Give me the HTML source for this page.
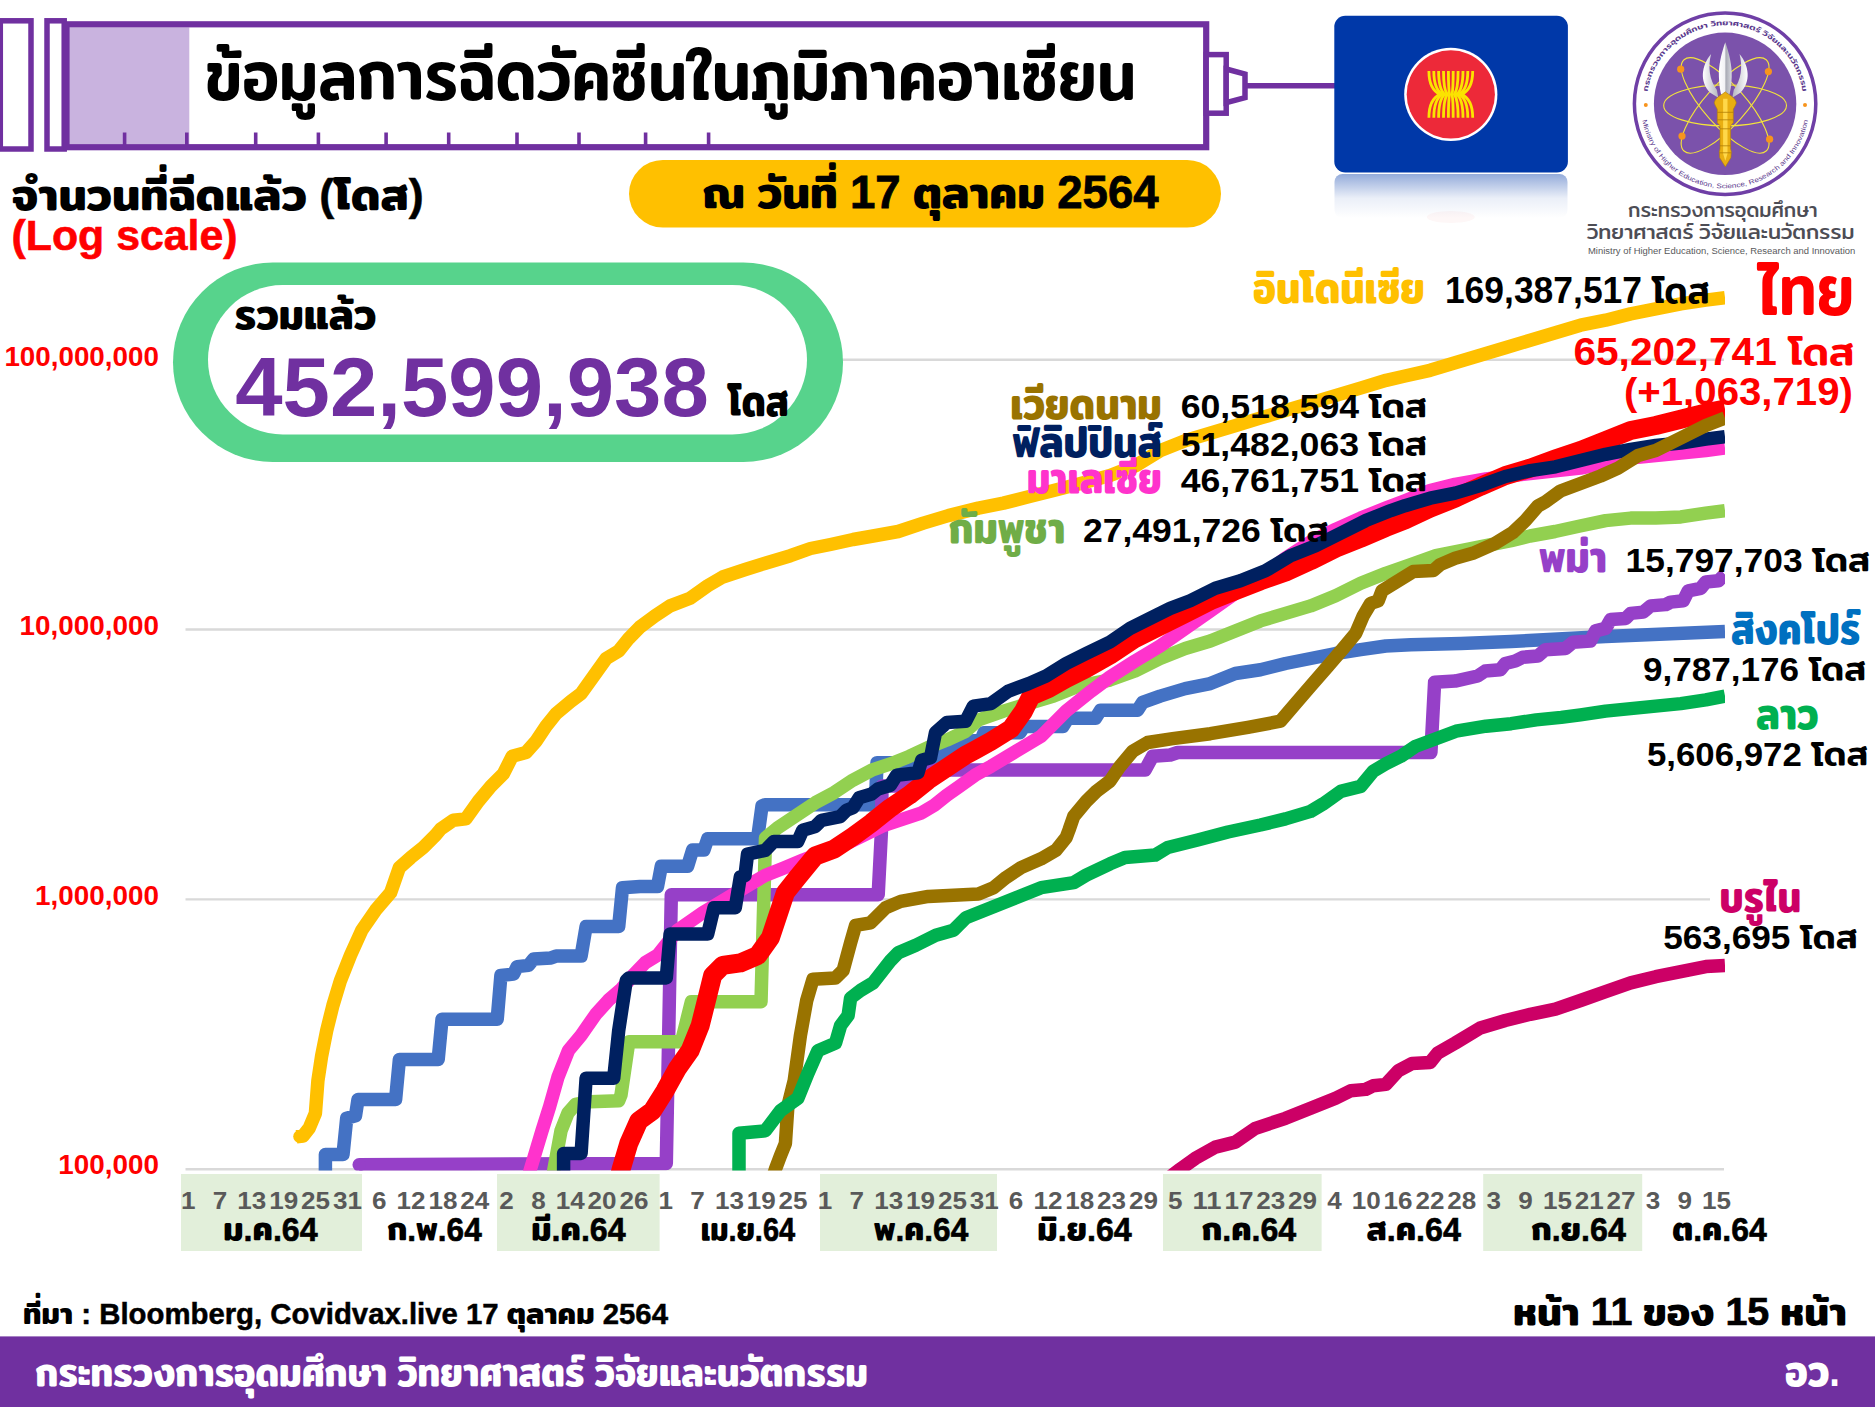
<!DOCTYPE html>
<html lang="th"><head><meta charset="utf-8"><title>ข้อมูลการฉีดวัคซีนในภูมิภาคอาเซียน</title>
<style>html,body{margin:0;padding:0;background:#fff}body{width:1875px;height:1407px;overflow:hidden}svg{display:block}text{font-family:"Liberation Sans","Mitr","Kanit","Prompt","Noto Sans Thai","Loma",sans-serif}</style></head><body>
<svg width="1875" height="1407" viewBox="0 0 1875 1407">
<defs><clipPath id="plot"><rect x="180" y="270" width="1545" height="900.5"/></clipPath>
<linearGradient id="refl" x1="0" y1="0" x2="0" y2="1"><stop offset="0" stop-color="#0038A8" stop-opacity=".42"/><stop offset=".55" stop-color="#0038A8" stop-opacity=".08"/><stop offset="1" stop-color="#0038A8" stop-opacity="0"/></linearGradient>
<linearGradient id="bladeM" x1="0" y1="0" x2="1" y2="0"><stop offset="0" stop-color="#fff"/><stop offset=".45" stop-color="#F2F2F5"/><stop offset=".55" stop-color="#A9ABB5"/><stop offset="1" stop-color="#D9DAE0"/></linearGradient>
<linearGradient id="bladeL" x1="0" y1="0" x2="1" y2="0"><stop offset="0" stop-color="#fff"/><stop offset="1" stop-color="#B4B6C0"/></linearGradient>
<linearGradient id="bladeR" x1="0" y1="0" x2="1" y2="0"><stop offset="0" stop-color="#B4B6C0"/><stop offset="1" stop-color="#fff"/></linearGradient>
</defs>
<rect width="1875" height="1407" fill="#fff"/>
<g fill="none" stroke="#7030A0" stroke-width="5.5">
<rect x="0.3" y="20.8" width="30.7" height="128.2" fill="#fff"/>
<rect x="47" y="20.8" width="17.2" height="128.2" fill="#fff"/>
<rect x="68.6" y="27.4" width="120.7" height="116.8" fill="#C9B3DF" stroke="none"/>
<rect x="66.5" y="24.3" width="1139.7" height="122.9" stroke-width="6.2"/>
<rect x="1206.2" y="54.6" width="20" height="58.6" fill="#fff"/>
<path d="M1226.2 69 L1245 74 L1245 97.6 L1226.2 102.6 Z" fill="#fff"/>
<path d="M1245 85.7 H1335"/>
</g>
<g stroke="#7030A0" stroke-width="3.6">
<path d="M124.6 132.5 V146"/>
<path d="M186.8 132.5 V146"/>
<path d="M255.7 132.5 V146"/>
<path d="M318.4 132.5 V146"/>
<path d="M386.1 132.5 V146"/>
<path d="M448.7 132.5 V146"/>
<path d="M517.0 132.5 V146"/>
<path d="M579.0 132.5 V146"/>
<path d="M645.6 132.5 V146"/>
<path d="M708.6 132.5 V146"/>
</g>
<rect x="1334.5" y="174" width="233" height="44" rx="8" fill="url(#refl)"/>
<ellipse cx="1450.8" cy="217" rx="24" ry="6" fill="#ED2939" opacity=".04"/>
<rect x="1334.3" y="15.8" width="233.6" height="156.7" rx="11" fill="#0038A8"/>
<circle cx="1450.8" cy="94.4" r="46.6" fill="#fff"/><circle cx="1450.8" cy="94.4" r="44.1" fill="#ED2939"/>
<g fill="none" stroke="#FBE400" stroke-width="2.8"><path d="M1428.9 71 Q1428.9 89.5 1440.2 94.4 Q1428.9 99.3 1428.9 117.8"/><path d="M1433.8 71 Q1433.8 89.5 1442.6 94.4 Q1433.8 99.3 1433.8 117.8"/><path d="M1438.6 71 Q1438.6 89.5 1444.9 94.4 Q1438.6 99.3 1438.6 117.8"/><path d="M1443.5 71 Q1443.5 89.5 1447.3 94.4 Q1443.5 99.3 1443.5 117.8"/><path d="M1448.4 71 Q1448.4 89.5 1449.6 94.4 Q1448.4 99.3 1448.4 117.8"/><path d="M1453.2 71 Q1453.2 89.5 1452.0 94.4 Q1453.2 99.3 1453.2 117.8"/><path d="M1458.1 71 Q1458.1 89.5 1454.3 94.4 Q1458.1 99.3 1458.1 117.8"/><path d="M1463.0 71 Q1463.0 89.5 1456.7 94.4 Q1463.0 99.3 1463.0 117.8"/><path d="M1467.8 71 Q1467.8 89.5 1459.0 94.4 Q1467.8 99.3 1467.8 117.8"/><path d="M1472.7 71 Q1472.7 89.5 1461.4 94.4 Q1472.7 99.3 1472.7 117.8"/></g>
<circle cx="1725.1" cy="103.8" r="90.7" fill="#fff" stroke="#6F3FA6" stroke-width="3.5"/>
<circle cx="1725.1" cy="103.8" r="71.2" fill="#7B52AB"/>
<g fill="none" stroke="#F3E43A" stroke-width="1.1">
<ellipse cx="1725.1" cy="105.4" rx="61.4" ry="20.5" transform="rotate(0 1725.1 105.4)"/>
<ellipse cx="1725.1" cy="105.4" rx="61.4" ry="20.5" transform="rotate(48 1725.1 105.4)"/>
<ellipse cx="1725.1" cy="105.4" rx="61.4" ry="20.5" transform="rotate(-48 1725.1 105.4)"/>
</g>
<g fill="#F7941D">
<circle cx="1680.7" cy="69.2" r="3.6"/>
<circle cx="1768.4" cy="71.6" r="3.6"/>
<circle cx="1682.0" cy="136.1" r="3.6"/>
<circle cx="1769.6" cy="139.2" r="3.6"/>
<circle cx="1645.8" cy="105.1" r="2.0"/>
<circle cx="1805.0" cy="105.1" r="2.0"/>
</g>
<g transform="translate(1725.3 103.8)">
<path d="M-14.2 -49.8 C-24 -38 -26 -22 -15 -11 L-7 -6 L-8.5 -14 C-16 -24 -17.5 -37 -14.2 -49.8Z" fill="url(#bladeL)"/>
<path d="M14.2 -49.8 C24 -38 26 -22 15 -11 L7 -6 L8.5 -14 C16 -24 17.5 -37 14.2 -49.8Z" fill="url(#bladeR)"/>
<path d="M0 -61.5 C-4 -50 -6.8 -38 -6.4 -27 C-6.2 -19 -5 -12 -3.5 -7 L3.5 -7 C5 -12 6.2 -19 6.4 -27 C6.8 -38 4 -50 0 -61.5Z" fill="url(#bladeM)"/>
<path d="M0 -12 C-3 -9 -10 -7 -11 -1 C-10 3 -8 4.5 -8 6 L-8 19 L-5.3 22 L-5.3 45 L-6 48 L-5.6 54 L0 63 L5.6 54 L6 48 L5.3 45 L5.3 22 L8 19 L8 6 C8 4.5 10 3 11 -1 C10 -7 3 -9 0 -12Z" fill="#E9AE12" stroke="#B07D08" stroke-width=".6"/>
<path d="M-2.2 -5 L2.2 -5 L2.2 50 L0 57 L-2.2 50Z" fill="#FFD84A"/>
<path d="M-8 8.5 H8 M-8 16 H8 M-5.3 25 H5.3 M-5.3 42 H5.3 M-6 49 H6" stroke="#B07D08" stroke-width=".8" fill="none"/>
</g>
<path id="arcTop" d="M1646.6 103.8 A78.5 78.5 0 0 1 1803.6 103.8" fill="none"/>
<path id="arcBot" d="M1640.6 103.8 A84.5 84.5 0 0 0 1809.6 103.8" fill="none"/>
<text font-size="7.2" fill="#5B3A8E" font-weight="500"><textPath href="#arcTop" startOffset="50%" text-anchor="middle" textLength="222" lengthAdjust="spacingAndGlyphs">กระทรวงการอุดมศึกษา วิทยาศาสตร์ วิจัยและนวัตกรรม</textPath></text>
<text font-size="6.6" fill="#5B3A8E"><textPath href="#arcBot" startOffset="50%" text-anchor="middle" textLength="232" lengthAdjust="spacingAndGlyphs">Ministry of Higher Education, Science, Research and Innovation</textPath></text>
<text x="1628.0" y="217.0" font-size="19.8" fill="#4D4D55" font-weight="400" textLength="189.6" lengthAdjust="spacingAndGlyphs">กระทรวงการอุดมศึกษา</text>
<text x="1587.0" y="239.3" font-size="20.6" fill="#4D4D55" font-weight="400" textLength="267.5" lengthAdjust="spacingAndGlyphs">วิทยาศาสตร์ วิจัยและนวัตกรรม</text>
<text x="1588.0" y="254.0" font-size="9.2" fill="#58595B" font-weight="400" textLength="267.3" lengthAdjust="spacingAndGlyphs">Ministry of Higher Education, Science, Research and Innovation</text>
<text x="205.6" y="100.0" font-size="71" fill="#000" font-weight="500" textLength="930.5" lengthAdjust="spacingAndGlyphs">ข้อมูลการฉีดวัคซีนในภูมิภาคอาเซียน</text>
<text x="11.5" y="209.6" font-size="44" fill="#000" font-weight="600" textLength="412.2" lengthAdjust="spacingAndGlyphs">จำนวนที่ฉีดแล้ว <tspan font-weight="700" stroke="#000" stroke-width="0.5">(</tspan>โดส<tspan font-weight="700" stroke="#000" stroke-width="0.5">)</tspan></text>
<text x="11.5" y="249.6" font-size="42" fill="#FF0000" font-weight="700" textLength="226.1" lengthAdjust="spacingAndGlyphs" stroke="#FF0000" stroke-width=".6">(Log scale)</text>
<rect x="629" y="160" width="592" height="67.5" rx="33.75" fill="#FFC000"/>
<text x="702.6" y="207.6" font-size="44" fill="#000" font-weight="600" textLength="456.0" lengthAdjust="spacingAndGlyphs">ณ วันที่ <tspan font-weight="700" font-size="45.4" stroke="#000" stroke-width="0.8">17</tspan> ตุลาคม <tspan font-weight="700" font-size="45.4" stroke="#000" stroke-width="0.8">2564</tspan></text>
<g stroke="#D9D9D9" stroke-width="2.4">
<path d="M185.5 359.8 H1724"/>
<path d="M185.5 629.5 H1724"/>
<path d="M185.5 899.4 H1710"/>
<path d="M185.5 1169.2 H1724"/>
</g>
<rect x="181.0" y="1174" width="181.0" height="77" fill="#E2EFDA"/>
<rect x="497.0" y="1174" width="162.6" height="77" fill="#E2EFDA"/>
<rect x="820.0" y="1174" width="177.0" height="77" fill="#E2EFDA"/>
<rect x="1163.0" y="1174" width="158.6" height="77" fill="#E2EFDA"/>
<rect x="1483.2" y="1174" width="159.0" height="77" fill="#E2EFDA"/>
<g clip-path="url(#plot)" fill="none" stroke-linejoin="round" stroke-linecap="butt">
<path d="M296.5 1136.8 L303.0 1136.0 L309.1 1128.3 L315.4 1113.3 L317.9 1080.7 L321.7 1055.6 L326.7 1030.5 L332.9 1005.5 L340.5 980.4 L350.5 955.3 L361.8 930.3 L375.6 910.2 L390.6 892.7 L399.4 867.6 L410.7 857.6 L423.2 847.5 L435.7 835.0 L440.7 829.0 L453.3 820.2 L465.8 818.9 L478.3 801.4 L490.9 786.3 L503.4 773.8 L512.2 756.3 L526.0 752.5 L536.0 741.2 L546.0 726.2 L556.1 713.6 L571.1 701.1 L581.1 693.6 L593.7 676.0 L606.2 658.5 L618.7 651.0 L628.8 638.4 L640.0 627.0 L655.0 615.9 L670.1 605.9 L690.1 598.3 L707.7 585.8 L722.7 577.0 L745.3 569.5 L765.3 563.2 L790.4 555.7 L810.5 548.5 L830.5 544.5 L853.1 539.5 L873.1 536.0 L898.2 531.5 L923.3 523.1 L948.3 515.6 L978.4 508.1 L1003.5 503.1 L1028.6 496.8 L1053.6 490.5 L1078.7 484.0 L1110.0 475.5 L1135.6 465.6 L1160.6 450.5 L1185.7 440.5 L1210.8 433.0 L1235.8 425.5 L1260.9 417.9 L1286.0 410.4 L1311.0 402.9 L1336.1 395.4 L1361.2 387.9 L1386.2 380.3 L1405.0 376.0 L1430.1 370.3 L1455.1 362.8 L1480.2 355.3 L1505.3 347.7 L1530.3 340.2 L1555.4 332.7 L1580.5 325.2 L1605.6 320.2 L1630.6 313.9 L1655.7 308.9 L1680.8 303.9 L1705.8 300.1 L1725.0 297.6" stroke="#FFC000" stroke-width="13.5"/>
<path d="M325.4 1175.0 L325.4 1154.6 L343.0 1154.6 L346.7 1118.3 L355.5 1115.8 L358.0 1099.5 L395.6 1099.5 L399.4 1059.4 L438.2 1059.4 L442.0 1019.3 L497.2 1019.3 L500.9 975.4 L513.5 974.1 L517.2 966.6 L528.5 965.4 L533.5 959.1 L551.0 957.9 L556.0 956.1 L581.1 956.1 L586.1 926.5 L618.7 926.5 L622.5 887.7 L640.0 886.4 L657.5 886.4 L661.3 866.3 L687.6 866.3 L692.6 850.0 L703.9 850.0 L707.7 838.8 L757.5 838.8 L762.0 806.0 L765.0 804.7 L875.4 804.7 L877.0 762.7 L936.0 762.7 L945.0 752.0 L958.0 742.0 L981.0 740.3 L984.0 732.7 L1020.0 732.7 L1024.0 726.5 L1062.9 726.5 L1068.0 718.3 L1095.5 718.3 L1100.5 710.2 L1137.6 710.2 L1142.6 702.4 L1160.1 696.1 L1185.2 688.6 L1210.3 683.6 L1235.3 673.5 L1260.4 669.8 L1285.5 663.5 L1310.6 658.5 L1335.6 653.5 L1360.7 649.7 L1385.8 646.0 L1410.8 644.7 L1461.0 643.5 L1511.1 641.5 L1605.6 636.5 L1725.0 631.5" stroke="#4472C4" stroke-width="13.5"/>
<path d="M359.2 1164.7 L666.3 1163.4 L671.3 894.7 L878.2 894.7 L881.5 830.0 L882.0 786.0 L922.0 786.0 L926.0 770.0 L1145.1 770.0 L1152.6 756.3 L1170.2 755.0 L1177.7 752.5 L1430.9 752.5 L1434.6 682.3 L1455.1 681.1 L1477.7 676.0 L1485.2 671.0 L1500.3 669.8 L1505.3 663.5 L1515.3 661.0 L1522.8 657.2 L1537.9 656.0 L1545.4 649.7 L1565.4 648.5 L1573.0 642.2 L1590.5 641.0 L1595.5 630.9 L1605.6 628.4 L1610.6 619.6 L1625.6 618.4 L1630.6 613.4 L1643.2 612.1 L1650.7 605.9 L1665.7 604.6 L1670.7 602.1 L1683.3 600.8 L1688.3 590.8 L1700.8 588.3 L1705.8 582.0 L1718.4 580.8 L1725.0 574.5" stroke="#9640C8" stroke-width="13.5"/>
<path d="M553.0 1176.0 L554.0 1169.0 L561.0 1130.8 L568.0 1113.0 L575.5 1104.5 L590.0 1101.7 L618.7 1100.7 L621.0 1095.0 L628.8 1041.8 L681.4 1041.8 L691.4 1001.7 L761.0 1001.7 L764.5 875.5 L765.5 838.0 L777.6 827.8 L796.4 815.3 L815.2 802.8 L834.0 792.7 L852.8 780.2 L871.6 770.2 L890.4 763.9 L909.2 756.4 L928.0 747.6 L946.8 740.1 L965.6 731.3 L978.4 720.0 L1003.5 711.1 L1028.6 703.6 L1053.6 696.1 L1078.7 686.1 L1110.0 680.0 L1135.1 671.0 L1160.1 658.5 L1185.2 648.5 L1210.3 641.0 L1235.3 630.9 L1260.4 620.9 L1285.5 613.4 L1310.6 605.9 L1335.6 595.8 L1360.7 583.3 L1385.8 573.3 L1410.8 564.5 L1435.9 555.7 L1461.0 550.7 L1486.0 545.7 L1511.1 540.7 L1530.0 536.0 L1555.0 531.5 L1580.0 526.0 L1605.6 520.6 L1630.6 518.1 L1655.7 518.1 L1680.8 516.9 L1705.8 513.1 L1725.0 510.6" stroke="#92D050" stroke-width="13.5"/>
<path d="M528.5 1176.0 L530.5 1169.0 L542.0 1130.8 L549.5 1107.0 L558.0 1077.0 L568.5 1050.5 L581.0 1035.5 L596.0 1014.0 L608.5 1000.2 L621.0 989.5 L633.0 975.5 L645.3 962.6 L657.9 955.0 L677.6 930.3 L702.7 912.7 L727.7 897.7 L752.8 882.6 L765.0 875.5 L783.9 867.9 L803.0 860.0 L850.0 842.0 L884.1 825.3 L902.9 819.1 L921.7 812.8 L934.3 805.3 L946.8 795.2 L959.3 786.5 L975.0 775.2 L991.0 766.3 L1016.0 751.3 L1041.1 736.2 L1066.2 711.1 L1091.2 691.1 L1110.0 677.0 L1135.1 661.0 L1160.1 646.0 L1185.2 628.4 L1210.3 610.9 L1235.3 593.3 L1260.4 577.0 L1285.5 558.2 L1310.6 541.9 L1335.6 529.4 L1360.7 518.1 L1385.8 508.1 L1405.0 500.7 L1430.1 490.6 L1455.1 484.4 L1486.0 479.0 L1530.0 473.5 L1580.5 468.1 L1605.6 463.1 L1630.6 458.0 L1655.7 455.5 L1680.8 453.0 L1705.8 450.5 L1725.0 448.0" stroke="#FF33CC" stroke-width="13.5"/>
<path d="M619.0 1178.0 L621.2 1169.0 L628.8 1143.4 L638.8 1120.8 L652.5 1110.8 L665.1 1090.7 L677.6 1068.2 L690.1 1050.6 L700.2 1025.5 L707.7 995.5 L712.7 975.4 L722.7 965.4 L740.3 962.9 L757.8 955.4 L770.4 937.8 L777.9 915.2 L785.4 892.7 L797.9 877.0 L815.2 856.0 L834.0 849.1 L852.8 836.6 L871.6 822.8 L890.4 807.8 L909.2 795.2 L928.0 780.2 L946.8 767.7 L965.6 755.1 L975.0 750.1 L991.0 741.2 L1011.0 728.7 L1023.6 711.1 L1031.1 696.1 L1048.6 688.6 L1066.2 678.6 L1086.2 668.5 L1110.0 655.0 L1135.1 638.4 L1160.1 625.9 L1185.2 613.4 L1210.3 600.8 L1235.3 590.8 L1260.4 580.8 L1285.5 572.0 L1310.6 560.7 L1335.6 548.2 L1360.7 538.2 L1385.8 527.5 L1405.0 520.0 L1430.1 508.2 L1455.1 498.2 L1480.2 486.5 L1505.3 475.6 L1530.3 468.1 L1555.4 459.0 L1580.5 450.5 L1605.6 440.5 L1630.6 430.5 L1655.7 425.5 L1680.8 419.2 L1705.8 412.9 L1725.0 409.0" stroke="#FF0000" stroke-width="19"/>
<path d="M563.6 1176.0 L563.6 1153.4 L581.1 1153.4 L586.1 1078.2 L613.7 1078.2 L618.7 1030.5 L626.3 980.4 L628.8 977.9 L666.3 977.9 L670.1 934.0 L707.7 934.0 L714.0 907.7 L735.3 907.7 L740.3 877.0 L745.0 875.5 L747.5 854.2 L765.1 850.4 L773.8 841.6 L797.7 841.6 L802.7 830.3 L815.2 826.6 L821.5 820.3 L840.3 816.6 L846.5 810.3 L852.8 807.8 L859.1 797.8 L871.6 794.0 L877.9 789.0 L890.4 785.2 L896.7 775.2 L918.0 772.7 L921.7 760.2 L930.5 757.7 L935.5 732.6 L946.8 722.6 L965.6 721.3 L973.4 706.1 L991.0 703.6 L1008.5 691.1 L1028.6 683.6 L1046.1 676.0 L1066.2 663.5 L1086.2 653.5 L1110.0 642.0 L1130.1 628.4 L1150.1 618.4 L1170.2 608.4 L1190.2 600.8 L1215.3 588.3 L1240.4 580.8 L1265.4 570.8 L1290.5 555.7 L1315.6 545.7 L1340.6 533.2 L1365.7 520.6 L1390.8 510.6 L1405.0 505.7 L1430.1 498.2 L1455.1 493.1 L1480.2 485.6 L1505.3 476.5 L1530.3 470.6 L1555.4 466.8 L1580.5 460.5 L1605.6 454.3 L1630.6 449.3 L1655.7 445.5 L1680.8 443.0 L1705.8 439.2 L1725.0 436.7" stroke="#002060" stroke-width="13.5"/>
<path d="M773.0 1177.0 L775.4 1169.2 L780.4 1155.9 L785.4 1143.4 L787.9 1105.8 L794.2 1080.7 L800.4 1035.6 L806.7 1000.5 L813.0 979.2 L835.5 977.9 L843.1 970.4 L850.6 942.8 L855.6 925.3 L870.6 922.8 L885.7 907.7 L900.7 901.4 L928.3 896.4 L978.4 893.9 L993.5 887.7 L1006.0 877.6 L1021.0 867.6 L1041.1 858.8 L1056.1 850.1 L1066.2 837.5 L1069.0 830.0 L1073.7 816.4 L1086.2 801.4 L1096.3 791.4 L1110.0 781.0 L1120.0 766.3 L1132.6 751.3 L1147.6 742.5 L1172.7 738.7 L1210.3 733.7 L1247.9 727.4 L1280.5 721.2 L1295.5 703.6 L1310.6 686.1 L1328.1 666.0 L1343.1 648.5 L1355.7 633.4 L1363.2 615.9 L1370.7 603.3 L1378.2 600.8 L1382.0 590.8 L1398.3 580.8 L1413.3 571.5 L1433.4 570.5 L1440.1 564.6 L1455.1 558.3 L1472.7 553.3 L1495.3 543.3 L1512.8 532.5 L1525.3 520.7 L1537.9 506.0 L1545.4 501.9 L1560.4 491.0 L1580.5 483.5 L1600.5 476.0 L1618.1 468.1 L1638.1 455.5 L1655.7 450.5 L1680.8 438.0 L1705.8 425.5 L1725.0 418.0" stroke="#997300" stroke-width="13.5"/>
<path d="M739.0 1177.0 L739.0 1133.3 L765.3 1130.8 L780.4 1110.8 L797.9 1098.2 L808.0 1073.2 L818.0 1050.6 L835.5 1043.1 L840.6 1025.5 L848.1 1015.5 L850.6 998.0 L860.6 990.4 L873.1 982.9 L890.7 960.4 L898.2 952.8 L915.8 945.3 L935.8 935.3 L953.4 930.3 L965.9 917.7 L991.0 907.7 L1016.0 897.7 L1041.1 887.7 L1073.7 882.6 L1086.2 875.1 L1110.0 863.8 L1125.0 857.6 L1155.1 855.1 L1167.7 847.5 L1197.7 840.0 L1228.0 832.0 L1260.4 825.0 L1285.5 818.9 L1310.6 811.4 L1323.1 803.9 L1340.6 791.4 L1360.7 786.4 L1373.2 771.3 L1385.8 763.8 L1400.8 756.3 L1415.8 746.2 L1435.9 738.7 L1456.0 731.2 L1486.0 726.2 L1511.1 723.7 L1536.2 719.9 L1561.2 717.4 L1580.5 714.9 L1605.6 711.1 L1630.6 708.6 L1655.7 706.1 L1680.8 703.6 L1705.8 699.9 L1725.0 696.1" stroke="#00B050" stroke-width="13.5"/>
<path d="M1170.0 1177.0 L1180.2 1169.2 L1195.2 1158.4 L1215.3 1147.1 L1235.3 1142.1 L1255.4 1128.3 L1285.5 1118.3 L1310.6 1108.3 L1335.6 1098.2 L1350.7 1090.7 L1365.7 1089.4 L1373.2 1085.7 L1385.8 1084.4 L1398.3 1070.7 L1412.0 1063.5 L1430.1 1062.5 L1437.6 1053.1 L1455.1 1043.1 L1480.2 1028.0 L1505.3 1020.5 L1530.3 1014.3 L1555.4 1009.2 L1580.5 1000.5 L1605.6 991.7 L1630.6 982.9 L1655.7 976.7 L1680.8 971.6 L1705.8 966.6 L1725.0 965.4" stroke="#CC0066" stroke-width="13.5"/>
</g>
<circle cx="299.5" cy="1136.5" r="6.3" fill="#FFC000"/>
<circle cx="359.2" cy="1164.7" r="6.75" fill="#9640C8" clip-path="url(#plot)"/>
<rect x="173" y="262.5" width="670" height="199.5" rx="99.75" fill="#57D38C"/>
<rect x="208" y="285" width="599" height="149.5" rx="74.75" fill="#fff"/>
<text x="234.6" y="329.0" font-size="43" fill="#000" font-weight="600" textLength="141.6" lengthAdjust="spacingAndGlyphs">รวมแล้ว</text>
<text x="235.2" y="416.0" font-size="83.5" fill="#7030A0" font-weight="700" textLength="473.6" lengthAdjust="spacingAndGlyphs">452,599,938</text>
<text x="728.0" y="415.6" font-size="44" fill="#000" font-weight="600" textLength="60.8" lengthAdjust="spacingAndGlyphs">โดส</text>
<text x="158.9" y="365.7" font-size="28" fill="#FF0000" font-weight="700" text-anchor="end" textLength="154.5" lengthAdjust="spacingAndGlyphs">100,000,000</text>
<text x="158.9" y="635.4" font-size="28" fill="#FF0000" font-weight="700" text-anchor="end" textLength="139.4" lengthAdjust="spacingAndGlyphs">10,000,000</text>
<text x="158.9" y="905.1" font-size="28" fill="#FF0000" font-weight="700" text-anchor="end" textLength="123.9" lengthAdjust="spacingAndGlyphs">1,000,000</text>
<text x="158.9" y="1174.2" font-size="28" fill="#FF0000" font-weight="700" text-anchor="end" textLength="100.6" lengthAdjust="spacingAndGlyphs">100,000</text>
<g font-size="23.6" fill="#595959" font-weight="700" text-anchor="middle">
<text x="188.2" y="1209" textLength="14.5" lengthAdjust="spacingAndGlyphs">1</text>
<text x="220.0" y="1209" textLength="14.5" lengthAdjust="spacingAndGlyphs">7</text>
<text x="251.8" y="1209" textLength="29" lengthAdjust="spacingAndGlyphs">13</text>
<text x="283.7" y="1209" textLength="29" lengthAdjust="spacingAndGlyphs">19</text>
<text x="315.5" y="1209" textLength="29" lengthAdjust="spacingAndGlyphs">25</text>
<text x="347.4" y="1209" textLength="29" lengthAdjust="spacingAndGlyphs">31</text>
<text x="379.2" y="1209" textLength="14.5" lengthAdjust="spacingAndGlyphs">6</text>
<text x="411.0" y="1209" textLength="29" lengthAdjust="spacingAndGlyphs">12</text>
<text x="442.9" y="1209" textLength="29" lengthAdjust="spacingAndGlyphs">18</text>
<text x="474.7" y="1209" textLength="29" lengthAdjust="spacingAndGlyphs">24</text>
<text x="506.6" y="1209" textLength="14.5" lengthAdjust="spacingAndGlyphs">2</text>
<text x="538.4" y="1209" textLength="14.5" lengthAdjust="spacingAndGlyphs">8</text>
<text x="570.3" y="1209" textLength="29" lengthAdjust="spacingAndGlyphs">14</text>
<text x="602.1" y="1209" textLength="29" lengthAdjust="spacingAndGlyphs">20</text>
<text x="633.9" y="1209" textLength="29" lengthAdjust="spacingAndGlyphs">26</text>
<text x="665.8" y="1209" textLength="14.5" lengthAdjust="spacingAndGlyphs">1</text>
<text x="697.6" y="1209" textLength="14.5" lengthAdjust="spacingAndGlyphs">7</text>
<text x="729.5" y="1209" textLength="29" lengthAdjust="spacingAndGlyphs">13</text>
<text x="761.3" y="1209" textLength="29" lengthAdjust="spacingAndGlyphs">19</text>
<text x="793.1" y="1209" textLength="29" lengthAdjust="spacingAndGlyphs">25</text>
<text x="825.0" y="1209" textLength="14.5" lengthAdjust="spacingAndGlyphs">1</text>
<text x="856.8" y="1209" textLength="14.5" lengthAdjust="spacingAndGlyphs">7</text>
<text x="888.7" y="1209" textLength="29" lengthAdjust="spacingAndGlyphs">13</text>
<text x="920.5" y="1209" textLength="29" lengthAdjust="spacingAndGlyphs">19</text>
<text x="952.4" y="1209" textLength="29" lengthAdjust="spacingAndGlyphs">25</text>
<text x="984.2" y="1209" textLength="29" lengthAdjust="spacingAndGlyphs">31</text>
<text x="1016.0" y="1209" textLength="14.5" lengthAdjust="spacingAndGlyphs">6</text>
<text x="1047.9" y="1209" textLength="29" lengthAdjust="spacingAndGlyphs">12</text>
<text x="1079.7" y="1209" textLength="29" lengthAdjust="spacingAndGlyphs">18</text>
<text x="1111.6" y="1209" textLength="29" lengthAdjust="spacingAndGlyphs">23</text>
<text x="1143.4" y="1209" textLength="29" lengthAdjust="spacingAndGlyphs">29</text>
<text x="1175.3" y="1209" textLength="14.5" lengthAdjust="spacingAndGlyphs">5</text>
<text x="1207.1" y="1209" textLength="29" lengthAdjust="spacingAndGlyphs">11</text>
<text x="1238.9" y="1209" textLength="29" lengthAdjust="spacingAndGlyphs">17</text>
<text x="1270.8" y="1209" textLength="29" lengthAdjust="spacingAndGlyphs">23</text>
<text x="1302.6" y="1209" textLength="29" lengthAdjust="spacingAndGlyphs">29</text>
<text x="1334.5" y="1209" textLength="14.5" lengthAdjust="spacingAndGlyphs">4</text>
<text x="1366.3" y="1209" textLength="29" lengthAdjust="spacingAndGlyphs">10</text>
<text x="1398.1" y="1209" textLength="29" lengthAdjust="spacingAndGlyphs">16</text>
<text x="1430.0" y="1209" textLength="29" lengthAdjust="spacingAndGlyphs">22</text>
<text x="1461.8" y="1209" textLength="29" lengthAdjust="spacingAndGlyphs">28</text>
<text x="1493.7" y="1209" textLength="14.5" lengthAdjust="spacingAndGlyphs">3</text>
<text x="1525.5" y="1209" textLength="14.5" lengthAdjust="spacingAndGlyphs">9</text>
<text x="1557.4" y="1209" textLength="29" lengthAdjust="spacingAndGlyphs">15</text>
<text x="1589.2" y="1209" textLength="29" lengthAdjust="spacingAndGlyphs">21</text>
<text x="1621.0" y="1209" textLength="29" lengthAdjust="spacingAndGlyphs">27</text>
<text x="1652.9" y="1209" textLength="14.5" lengthAdjust="spacingAndGlyphs">3</text>
<text x="1684.7" y="1209" textLength="14.5" lengthAdjust="spacingAndGlyphs">9</text>
<text x="1716.6" y="1209" textLength="29" lengthAdjust="spacingAndGlyphs">15</text>
</g>
<text x="270.5" y="1241.0" font-size="33.3" fill="#000" font-weight="600" text-anchor="middle" textLength="94.5" lengthAdjust="spacingAndGlyphs">ม<tspan font-weight="700" stroke="#000" stroke-width="0.6">.</tspan>ค<tspan font-weight="700" stroke="#000" stroke-width="0.6">.64</tspan></text>
<text x="434.5" y="1241.0" font-size="33.3" fill="#000" font-weight="600" text-anchor="middle" textLength="94.5" lengthAdjust="spacingAndGlyphs">ก<tspan font-weight="700" stroke="#000" stroke-width="0.6">.</tspan>พ<tspan font-weight="700" stroke="#000" stroke-width="0.6">.64</tspan></text>
<text x="578.5" y="1241.0" font-size="33.3" fill="#000" font-weight="600" text-anchor="middle" textLength="94.5" lengthAdjust="spacingAndGlyphs">มี<tspan font-weight="700" stroke="#000" stroke-width="0.6">.</tspan>ค<tspan font-weight="700" stroke="#000" stroke-width="0.6">.64</tspan></text>
<text x="748.0" y="1241.0" font-size="33.3" fill="#000" font-weight="600" text-anchor="middle" textLength="94.5" lengthAdjust="spacingAndGlyphs">เม<tspan font-weight="700" stroke="#000" stroke-width="0.6">.</tspan>ย<tspan font-weight="700" stroke="#000" stroke-width="0.6">.64</tspan></text>
<text x="921.0" y="1241.0" font-size="33.3" fill="#000" font-weight="600" text-anchor="middle" textLength="94.5" lengthAdjust="spacingAndGlyphs">พ<tspan font-weight="700" stroke="#000" stroke-width="0.6">.</tspan>ค<tspan font-weight="700" stroke="#000" stroke-width="0.6">.64</tspan></text>
<text x="1084.6" y="1241.0" font-size="33.3" fill="#000" font-weight="600" text-anchor="middle" textLength="94.5" lengthAdjust="spacingAndGlyphs">มิ<tspan font-weight="700" stroke="#000" stroke-width="0.6">.</tspan>ย<tspan font-weight="700" stroke="#000" stroke-width="0.6">.64</tspan></text>
<text x="1249.0" y="1241.0" font-size="33.3" fill="#000" font-weight="600" text-anchor="middle" textLength="94.5" lengthAdjust="spacingAndGlyphs">ก<tspan font-weight="700" stroke="#000" stroke-width="0.6">.</tspan>ค<tspan font-weight="700" stroke="#000" stroke-width="0.6">.64</tspan></text>
<text x="1413.7" y="1241.0" font-size="33.3" fill="#000" font-weight="600" text-anchor="middle" textLength="94.5" lengthAdjust="spacingAndGlyphs">ส<tspan font-weight="700" stroke="#000" stroke-width="0.6">.</tspan>ค<tspan font-weight="700" stroke="#000" stroke-width="0.6">.64</tspan></text>
<text x="1578.6" y="1241.0" font-size="33.3" fill="#000" font-weight="600" text-anchor="middle" textLength="94.5" lengthAdjust="spacingAndGlyphs">ก<tspan font-weight="700" stroke="#000" stroke-width="0.6">.</tspan>ย<tspan font-weight="700" stroke="#000" stroke-width="0.6">.64</tspan></text>
<text x="1719.5" y="1241.0" font-size="33.3" fill="#000" font-weight="600" text-anchor="middle" textLength="94.5" lengthAdjust="spacingAndGlyphs">ต<tspan font-weight="700" stroke="#000" stroke-width="0.6">.</tspan>ค<tspan font-weight="700" stroke="#000" stroke-width="0.6">.64</tspan></text>
<text x="1253.1" y="303.3" font-size="44" fill="#FFC000" font-weight="600" textLength="171.8" lengthAdjust="spacingAndGlyphs">อินโดนีเซีย</text>
<text x="1444.9" y="302.6" font-size="36" fill="#000" font-weight="500" textLength="264.7" lengthAdjust="spacingAndGlyphs"><tspan font-weight="700">169,387,517</tspan> โดส</text>
<text x="1010.2" y="419.2" font-size="44" fill="#997300" font-weight="600" textLength="151.7" lengthAdjust="spacingAndGlyphs">เวียดนาม</text>
<text x="1180.7" y="418.0" font-size="33" fill="#000" font-weight="500" textLength="246.3" lengthAdjust="spacingAndGlyphs"><tspan font-weight="700">60,518,594</tspan> โดส</text>
<text x="1012.2" y="457.2" font-size="44" fill="#002060" font-weight="600" textLength="149.7" lengthAdjust="spacingAndGlyphs">ฟิลิปปินส์</text>
<text x="1180.7" y="456.0" font-size="33" fill="#000" font-weight="500" textLength="246.3" lengthAdjust="spacingAndGlyphs"><tspan font-weight="700">51,482,063</tspan> โดส</text>
<text x="1026.7" y="493.0" font-size="44" fill="#FF33CC" font-weight="600" textLength="135.2" lengthAdjust="spacingAndGlyphs">มาเลเซีย</text>
<text x="1180.7" y="492.2" font-size="33" fill="#000" font-weight="500" textLength="246.3" lengthAdjust="spacingAndGlyphs"><tspan font-weight="700">46,761,751</tspan> โดส</text>
<text x="948.8" y="543.3" font-size="44" fill="#70AD47" font-weight="600" textLength="116.6" lengthAdjust="spacingAndGlyphs">กัมพูชา</text>
<text x="1082.9" y="542.0" font-size="33" fill="#000" font-weight="500" textLength="245.7" lengthAdjust="spacingAndGlyphs"><tspan font-weight="700">27,491,726</tspan> โดส</text>
<text x="1539.0" y="572.0" font-size="44" fill="#9640C8" font-weight="600" textLength="68.0" lengthAdjust="spacingAndGlyphs">พม่า</text>
<text x="1625.6" y="572.0" font-size="33" fill="#000" font-weight="500" textLength="244.4" lengthAdjust="spacingAndGlyphs"><tspan font-weight="700">15,797,703</tspan> โดส</text>
<text x="1731.0" y="643.5" font-size="44" fill="#0070C0" font-weight="600" textLength="129.0" lengthAdjust="spacingAndGlyphs">สิงคโปร์</text>
<text x="1643.0" y="681.0" font-size="33" fill="#000" font-weight="500" textLength="223.0" lengthAdjust="spacingAndGlyphs"><tspan font-weight="700">9,787,176</tspan> โดส</text>
<text x="1756.0" y="728.7" font-size="44" fill="#00B050" font-weight="600" textLength="62.6" lengthAdjust="spacingAndGlyphs">ลาว</text>
<text x="1647.0" y="766.3" font-size="33" fill="#000" font-weight="500" textLength="221.0" lengthAdjust="spacingAndGlyphs"><tspan font-weight="700">5,606,972</tspan> โดส</text>
<text x="1719.6" y="911.5" font-size="44" fill="#CC0066" font-weight="600" textLength="81.4" lengthAdjust="spacingAndGlyphs">บรูไน</text>
<text x="1663.2" y="949.0" font-size="33" fill="#000" font-weight="500" textLength="194.3" lengthAdjust="spacingAndGlyphs"><tspan font-weight="700">563,695</tspan> โดส</text>
<text x="1757.8" y="315.2" font-size="72.5" fill="#FF0000" font-weight="500" textLength="96.5" lengthAdjust="spacingAndGlyphs">ไทย</text>
<text x="1573.4" y="365.3" font-size="39.5" fill="#FF0000" font-weight="500" textLength="280.9" lengthAdjust="spacingAndGlyphs"><tspan font-weight="700">65,202,741</tspan> โดส</text>
<text x="1623.9" y="404.6" font-size="39" fill="#FF0000" font-weight="700" textLength="229.1" lengthAdjust="spacingAndGlyphs">(+1,063,719)</text>
<text x="23.0" y="1324.4" font-size="30" fill="#000" font-weight="600" textLength="645.0" lengthAdjust="spacingAndGlyphs">ที่มา <tspan font-weight="700" stroke="#000" stroke-width="0.5">: Bloomberg, Covidvax.live 17</tspan> ตุลาคม <tspan font-weight="700" stroke="#000" stroke-width="0.5">2564</tspan></text>
<text x="1513.0" y="1325.0" font-size="39" fill="#000" font-weight="600" textLength="334.0" lengthAdjust="spacingAndGlyphs">หน้า <tspan font-weight="700" font-size="39" stroke="#000" stroke-width="0.7">11</tspan> ของ <tspan font-weight="700" font-size="39" stroke="#000" stroke-width="0.7">15</tspan> หน้า</text>
<rect x="0" y="1336.4" width="1875" height="70.6" fill="#7030A0"/>
<text x="35.2" y="1386.0" font-size="40" fill="#fff" font-weight="600" textLength="832.8" lengthAdjust="spacingAndGlyphs">กระทรวงการอุดมศึกษา วิทยาศาสตร์ วิจัยและนวัตกรรม</text>
<text x="1785.0" y="1386.0" font-size="44.4" fill="#fff" font-weight="600" textLength="55.0" lengthAdjust="spacingAndGlyphs">อว<tspan font-weight="700">.</tspan></text>
</svg></body></html>
